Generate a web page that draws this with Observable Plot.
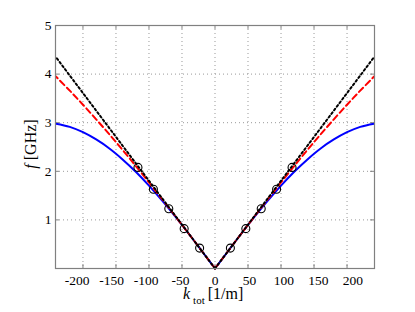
<!DOCTYPE html>
<html><head><meta charset="utf-8">
<script src="https://cdn.jsdelivr.net/npm/d3@7"></script>
<script src="https://cdn.jsdelivr.net/npm/@observablehq/plot@0.6"></script>
<style>
html,body{margin:0;padding:0;background:#fff;}
#chart{width:415px;height:312px;}
</style></head>
<body><div id="chart"></div>
<script>
const kTicks = [-200,-150,-100,-50,0,50,100,150,200];
const kTickLabels = ["-200","-150","-100","-50","0","50","100","150","200"];
const fTicks = [1,2,3,4,5];
const fGrid = [1,2,3,4];

// curve samples (|k| half, mirrored for negative k)
const kHalf = [0,20,40,60,80,100,120,140,160,180,200,220,241];
const fBlueHalf = [0,0.36,0.72,1.065,1.395,1.705,1.99,2.245,2.47,2.655,2.805,2.915,2.98];
const fRedHalf  = [0,0.36,0.72,1.075,1.425,1.77,2.11,2.44,2.76,3.07,3.37,3.66,3.95];
const kBlackHalf = [0,241];
const fBlackHalf = [0,4.35];

const kPts = [-116.7,-93.3,-70,-46.7,-23.3,23.3,46.7,70,93.3,116.7];
const fPts = [2.08,1.63,1.23,0.82,0.42,0.42,0.82,1.23,1.63,2.08];

function mirror(ks, fs){
  const rows = [];
  ks.forEach((k,i)=>rows.push({k:-k, f:fs[i], side:"L"}));
  ks.forEach((k,i)=>rows.push({k:k, f:fs[i], side:"R"}));
  return rows;
}
const blue = mirror(kHalf, fBlueHalf);
const red = mirror(kHalf, fRedHalf);
const black = mirror(kBlackHalf, fBlackHalf);
const pts = kPts.map((k,i)=>({k, f:fPts[i]}));
const xLabels = kTicks.map((k,i)=>({k, label: kTickLabels[i]}));

const xDom = [-241.6, 241.6];
const yDom = [0, 5];
const tickLenX = 0.08;  // in f units (~4px)
const tickLenY = 6;     // in k units (~4px)
const labelSpread = 1.045; // tick labels in the reference sit slightly wider apart than the ticks
const gridColor = "#999";
const frameColor = "#808080";
const serif = "Liberation Serif, Times New Roman, serif";
const fmt = d => String(d);

const plot = Plot.plot({
  width: 415, height: 312,
  marginLeft: 55, marginRight: 41, marginTop: 25, marginBottom: 44,
  style: {fontFamily: serif, fontSize: "13.5px", background: "#fff", color: "#000"},
  x: {domain: xDom, axis: null},
  y: {domain: yDom, ticks: fTicks},
  marks: [
    Plot.ruleX(kTicks, {x: d=>d, stroke: gridColor, strokeWidth: 1, strokeDasharray: "1,3"}),
    Plot.ruleY(fGrid, {y: d=>d, stroke: gridColor, strokeWidth: 1, strokeDasharray: "1,3"}),
    // inward ticks
    Plot.ruleX(kTicks, {x: d=>d, y1: yDom[0], y2: yDom[0]+tickLenX, stroke: frameColor}),
    Plot.ruleX(kTicks, {x: d=>d, y1: yDom[1], y2: yDom[1]-tickLenX, stroke: frameColor}),
    Plot.ruleY(fTicks, {y: d=>d, x1: xDom[0], x2: xDom[0]+tickLenY, stroke: frameColor}),
    Plot.ruleY(fTicks, {y: d=>d, x1: xDom[1], x2: xDom[1]-tickLenY, stroke: frameColor}),
    Plot.text(xLabels, {x: d=>d.k*labelSpread, y: yDom[0], text: "label", lineAnchor: "top", dy: 7, fontSize: 13.5, fontFamily: serif, fill: "#000"}),
    Plot.axisY({ticks: fTicks, tickSize: 0, tickPadding: 4, label: null, fontSize: 13.5, fontFamily: serif, tickFormat: fmt}),
    Plot.line(blue, {x: "k", y: "f", z: "side", stroke: "#0000ff", strokeWidth: 2, curve: "catmull-rom"}),
    Plot.line(red, {x: "k", y: "f", z: "side", stroke: "#ff0000", strokeWidth: 2, strokeDasharray: "6,3.5", curve: "catmull-rom"}),
    Plot.line(black, {x: "k", y: "f", z: "side", stroke: "#000", strokeWidth: 2, strokeDasharray: "2,2.5"}),
    Plot.dot(pts, {x: "k", y: "f", r: 4, stroke: "#000", strokeWidth: 1.1, fill: "none"}),
    Plot.frame({stroke: frameColor, strokeWidth: 1.2})
  ]
});
document.getElementById("chart").appendChild(plot);

const svg = d3.select(plot);
svg.selectAll("text").each(function(){
  this.style.setProperty("font-family", serif, "important");
  this.style.setProperty("font-size", "13.5px", "important");
});

// axis titles
const xl = svg.append("text")
  .attr("x", 183).attr("y", 299).attr("text-anchor", "start")
  .style("font-family", serif).style("font-size", "16px").attr("fill", "#000");
xl.append("tspan").attr("font-style", "italic").text("k");
xl.append("tspan").style("font-size", "11px").attr("dy", 5).attr("dx", 3).text("tot");
xl.append("tspan").attr("dy", -5).attr("dx", 3).text("[1/m]");

const yl = svg.append("text")
  .attr("transform", "translate(36,144) rotate(-90)")
  .attr("text-anchor", "middle")
  .style("font-family", serif).style("font-size", "16px").attr("fill", "#000");
yl.append("tspan").attr("font-style", "italic").text("f");
yl.append("tspan").text(" [GHz]");
</script>
</body></html>
